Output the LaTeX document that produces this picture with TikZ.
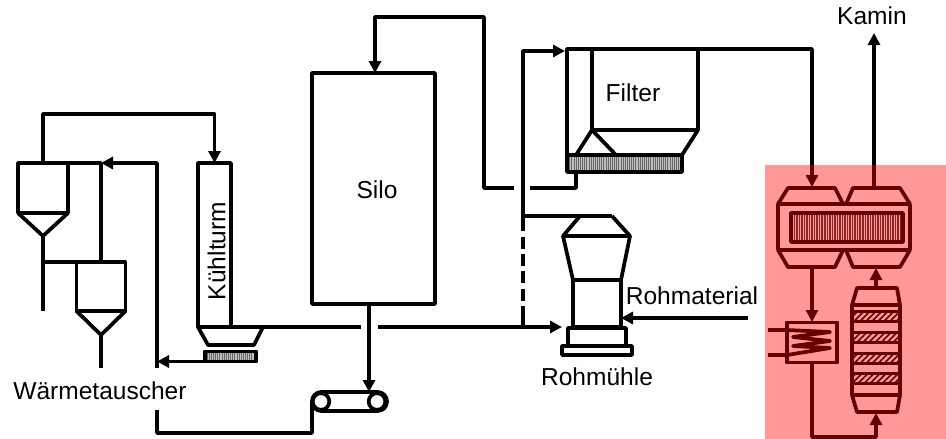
\documentclass[tikz,border=0pt]{standalone}
\usepackage{fontspec}
\setmainfont{Liberation Sans}
\usetikzlibrary{arrows.meta,patterns.meta}

\begin{document}
\begin{tikzpicture}[x=0.75pt, y=-0.75pt, line width=2.8pt, line join=round,
	   >={Stealth[length=9pt,width=9pt,inset=0pt]},
	   font=\fontsize{18.4}{20}\selectfont,
	   unit/.style args={#1x#2}{draw, rectangle, inner sep=0pt, outer sep=0pt, minimum width=#1*0.75pt, minimum height=#2*0.75pt},
	   hatchv/.style={preaction={fill=black!25}, pattern={Lines[angle=90,distance=1.6pt,line width=.4pt]}, pattern color=black!60},
	   hatchk/.style={preaction={fill=black!75}, pattern={Lines[angle=90,distance=1.9pt,line width=.5pt]}, pattern color=white},
	   hatchd/.style={pattern={Lines[angle=45,distance=3.2pt,line width=1.2pt]}, pattern color=black},
	   label/.style={inner sep=0pt, outer sep=0pt}]
	  \useasboundingbox (0,0) rectangle (946,439);
	  % heat exchanger
	  \node[unit=50x50] (hxa) at (43,188) {};
	  \node[unit=49x49] (hxb) at (101,286.5) {};
	  \coordinate (tipa) at (43,236);
	  \coordinate (tipb) at (101,335);
	  \coordinate (enda) at (43,311);
	  \coordinate (endb) at (101,368);
	  \draw (hxa.south west)--(tipa)--(hxa.south east);
	  \draw (hxb.south west)--(tipb)--(hxb.south east);
	  \draw (tipa)--(enda); \draw (tipb)--(endb);
	  \draw (43,262)--(hxb.north west);
	  \coordinate (joint) at (hxb.north |- hxa.north);
	  \draw (hxa.north east)--(joint)--(hxb.north);
	  \node[label] (hxlabel) at (100,391) {Wärmetauscher};
	  % cooling tower
	  \node[unit=33x164] (tower) at (214.5,245) {};
	  \node[label, rotate=90] (towerlabel) at (216.5,251) {Kühlturm};
	  \coordinate (hopr) at (263,327);
	  \draw (tower.south west)--(hopr)--(254,345)--(208,345)--cycle;
	  \node[unit=51x10, hatchv] (grate) at (230.5,356.5) {};
	  \draw (grate.north west) rectangle (grate.south east);
	  \draw[->] (hxa.north)--(43,114)-|(tower.north);
	  % gas line
	  \coordinate (gasa) at (157,368);
	  \coordinate (gasb) at (157,410);
	  \draw[->] (gasa)--(157,163)--(joint);
	  \draw[->] (grate.south west)--(gasa |- grate.south west);
	  % silo and conveyor
	  \node[unit=123x231] (silo) at (373.5,188.5) {};
	  \node[label] (silolabel) at (377,190) {Silo};
	  \node[unit=75x19, rounded corners=7pt, fill=white] (belt) at (349.5,401.5) {};
	  \node[draw, circle, inner sep=0pt, outer sep=0pt, minimum size=12.5pt, fill=white] (rolla) at (321,401.5) {};
	  \node[draw, circle, inner sep=0pt, outer sep=0pt, minimum size=12.5pt, fill=white] (rollb) at (377,401.5) {};
	  \draw (gasb)--(157,433)-|(belt.west);
	  \coordinate (siloout) at (369,304);
	  \draw[->] (siloout)--(369,392);
	  % raw mill
	  \node[unit=48x47] (mill) at (597,303.5) {};
	  \node[unit=58x18] (millb) at (597,337) {};
	  \node[unit=70x9] (millc) at (597,350.5) {};
	  \coordinate (milltop) at (612,216);
	  \draw (milltop)--(630,236)--(563,236)--(580,216);
	  \draw (563,236)--(mill.north west); \draw (630,236)--(mill.north east);
	  \node[label] (milllabel) at (597,377) {Rohmühle};
	  \node[label] (rawlabel) at (692,296) {Rohmaterial};
	  \coordinate (rawin) at (748,318);
	  \draw[->] (rawin)--(rawin -| mill.east);
	  % filter
	  \node[unit=106x81] (filter) at (645,89.5) {};
	  \node[label] at (633,93) (filterlabel) {Filter};
	  \node[unit=115x17, hatchv] (dust) at (624.5,163.5) {};
	  \coordinate (duct) at (filter.north west);
	  \draw (dust.north west)--(567,49)--(duct);
	  \draw (576,155)--(filter.south west)--(616,155);
	  \draw (filter.south east)--(dust.north east);
	  \coordinate (dusta) at (576,188);
	  \coordinate (gapl) at (514,188);
	  \coordinate (gapr) at (530,188);
	  \draw (576,172)--(dusta)--(gapr);
	  \draw[->] (gapl)--(484,188)--(484,17)--(375,17)--(375,73);
	  % riser
	  \coordinate (riser) at (523,327);
	  \coordinate (risera) at (523,318);
	  \coordinate (riserb) at (523,230);
	  \coordinate (riserc) at (523,216);
	  \coordinate (gaspa) at (361,327);
	  \coordinate (gaspb) at (378,327);
	  \draw (tower.south east)--(gaspa);
	  \draw[->] (gaspb)--(562,327);
	  \draw (riser)--(risera);
	  \draw[dash pattern=on 9pt off 4pt] (risera)--(riserb);
	  \draw[->] (riserb)--(523,51)--(565,51);
	  \draw (riserc)--(milltop);
	  % kiln
	  \node[unit=132x46] (ofen) at (844,227) {};
	  \node[unit=112x29, hatchk] (ofenh) at (847,227.5) {};
	  \draw (ofen.north west)--(788,188)--(835,188)--(843,204);
	  \draw (846,204)--(853,188)--(900,188)--(ofen.north east);
	  \draw (ofen.south west)--(788,267)--(835,267)--(843,250);
	  \draw (846,250)--(853,267)--(900,267)--(ofen.south east);
	  \draw[->] (567,49)--(812,49)--(812,187);
	  \node[label] (kamin) at (872,16) {Kamin};
	  \coordinate (kaminin) at (874,188);
	  \draw[->] (kaminin)--(874,33);
	  % cooler
	  \node[unit=50x40] (wt) at (812,342.5) {};
	  \draw (wt.north west) rectangle (wt.south east);
	  \coordinate (wta) at (768,330);
	  \coordinate (wtb) at (768,355);
	  \draw (wta)--(787,330)--(830,332)--(793,337)--(830,341)--(793,346)--(830,348)--(787,355)--(wtb);
	  \draw[->] (812,267)--(812,322);
	  % column
	  \node[unit=48x90] (col) at (876,350) {};
	  \draw (col.north west)--(857,288)--(897,288)--(col.north east);
	  \draw (col.south west)--(857,412)--(897,412)--(col.south east);
	  \foreach \yb/\nm in {316.5/a,337.5/b,358.5/c,378.5/d}
	    \node[unit=48x10, hatchd] (band\nm) at (876,\yb) {};
	  \draw[->] (876,288)--(876,268);
	  \draw[->] (812,362)--(812,437)--(876,437)--(876,413);
	  % highlighted zone
	  \node[rectangle, inner sep=0pt, minimum width=135.75pt, minimum height=205.5pt, fill=red, opacity=.4] (zone) at (855.5,302) {};
	\end{tikzpicture}
\end{document}
